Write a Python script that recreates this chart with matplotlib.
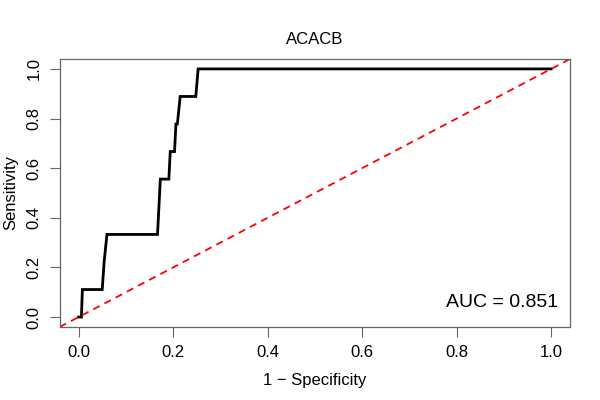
import matplotlib
matplotlib.use("Agg")
import matplotlib.pyplot as plt

plt.rcParams['font.family'] = ['Liberation Sans', 'DejaVu Sans']

# ROC curve points (1 - specificity, sensitivity)
fpr = [0.0, 0.006, 0.008, 0.050, 0.054, 0.060, 0.167, 0.173, 0.191, 0.194,
       0.203, 0.206, 0.209, 0.215, 0.248, 0.253, 1.0]
tpr = [0.0, 0.0, 0.111, 0.111, 0.222, 0.333, 0.333, 0.556, 0.556, 0.667,
       0.667, 0.778, 0.778, 0.889, 0.889, 1.0, 1.0]
auc = 0.851
title = "ACACB"
ticks = [0.0, 0.2, 0.4, 0.6, 0.8, 1.0]

fig = plt.figure(figsize=(6, 4), dpi=100)
ax = fig.add_axes([0.0995, 0.1825, 0.8505, 0.67])

ax.plot(fpr, tpr, color='black', lw=2.0, solid_joinstyle='miter')
ax.axline((0, 0), (1, 1), color='red', lw=1.3, ls=(0, (4, 3)))

ax.set_xlim(-0.04, 1.04)
ax.set_ylim(-0.04, 1.04)
ax.set_xticks(ticks)
ax.set_yticks(ticks)
ax.set_xticklabels([f"{t:.1f}" for t in ticks])
ax.set_yticklabels([f"{t:.1f}" for t in ticks], rotation=90, va='center')
ax.tick_params(length=7, width=0.8, color='#666666', labelsize=12, pad=6)
for s in ax.spines.values():
    s.set_color('#666666')
    s.set_linewidth(0.9)

ax.set_title(title, fontsize=12, pad=11)
ax.set_xlabel("1 \u2212 Specificity", fontsize=12, labelpad=9)
ax.set_ylabel("Sensitivity", fontsize=12, labelpad=6)
ax.text(1.015, 0.025, f"AUC = {auc}", ha='right', va='bottom', fontsize=14)

fig.savefig("out.png", dpi=100)
